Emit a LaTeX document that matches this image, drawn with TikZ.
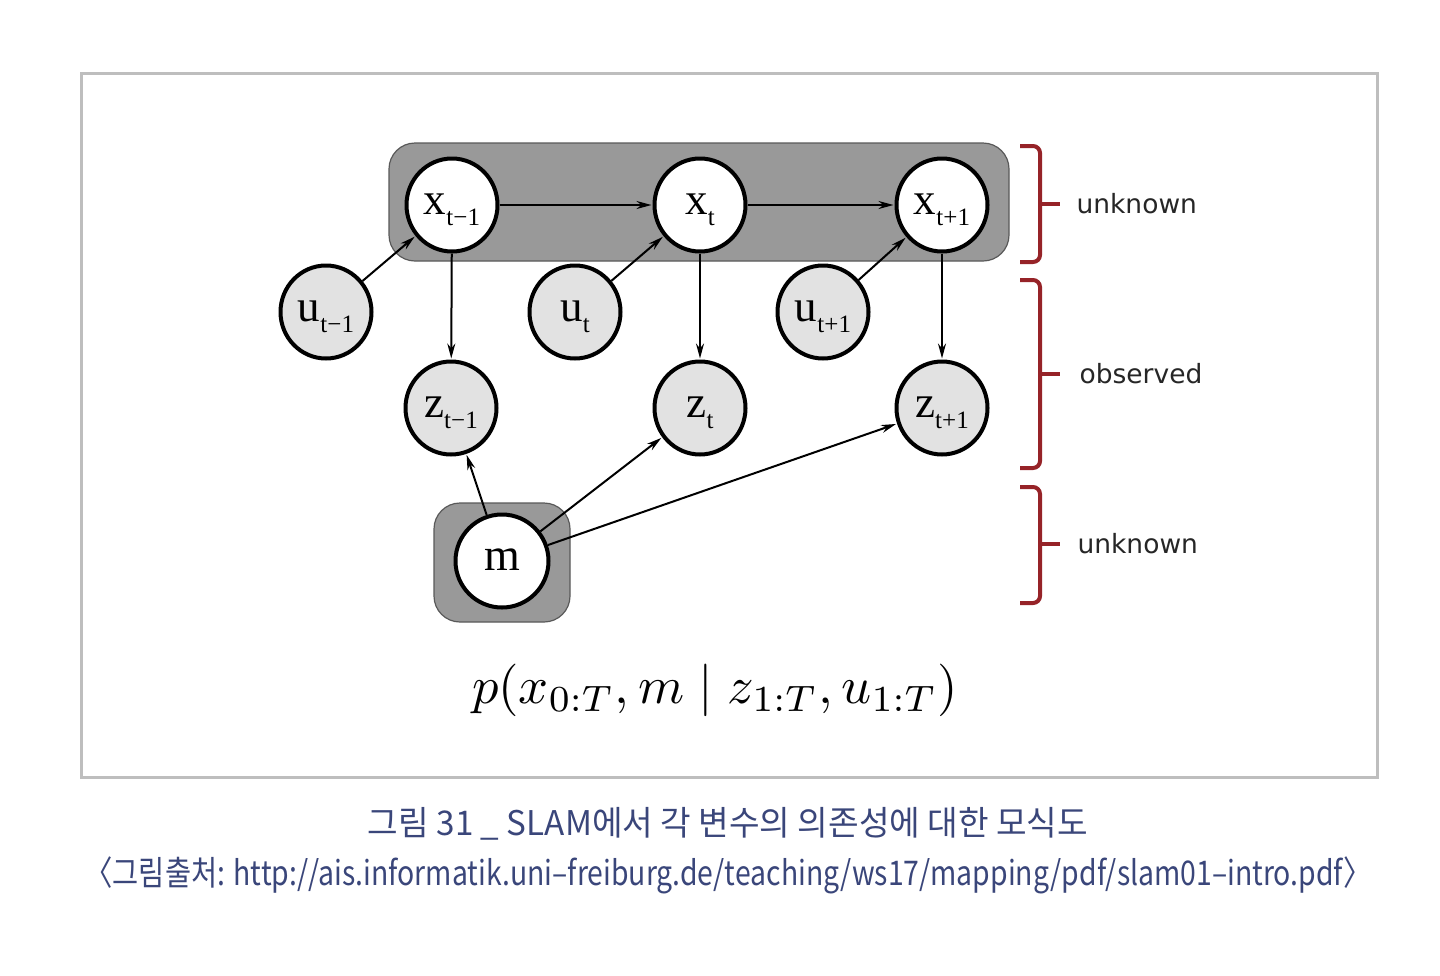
\documentclass[tikz,border=0pt]{standalone}
\usepackage[no-math]{fontspec}
\usepackage{graphicx}
\usetikzlibrary{shapes.geometric,arrows.meta}
\newfontfamily\nodefont{Liberation Serif}
\newfontfamily\labfont{DejaVu Sans}
\newfontfamily\krfont{Noto Sans CJK KR}
\definecolor{bracecol}{RGB}{150,35,40}
\definecolor{capcol}{RGB}{58,70,122}
\definecolor{boxgray}{RGB}{153,153,153}
\definecolor{nodegray}{RGB}{226,226,226}
\definecolor{framegray}{RGB}{190,190,190}
\newcommand{\varlab}[2]{{\fontsize{45}{45}\selectfont #1}\raisebox{-11pt}{\fontsize{25}{25}\selectfont #2}}
\newcommand{\bracketshape}[3]{%
  \draw[bracket] (1020,#1) -- (1040,#1) -- (1040,#2) -- (1020,#2);
  \draw[bracket] (1040,#3) -- (1060,#3);}
\tikzset{
  var/.style={ellipse, draw=black, line width=4pt, minimum width=91pt, minimum height=93pt,
    inner sep=0pt, font=\nodefont, text height=29pt, text depth=10pt},
  hid/.style={var, fill=white},
  obs/.style={var, fill=nodegray},
  edge/.style={-{Stealth[length=15pt,width=8pt]}, line width=2pt, shorten >=1pt},
  grp/.style={fill=boxgray, draw=black!65, line width=1.2pt, rounded corners=26pt},
  bracket/.style={draw=bracecol, line width=4pt, rounded corners=7pt},
  side/.style={font=\labfont\fontsize{26.5}{26.5}\selectfont, text=black!85, anchor=west},
  captext/.style={font=\krfont, text=capcol}
}
\begin{document}
\begin{tikzpicture}[x=1pt,y=-1pt]
\useasboundingbox (0,0) rectangle (1440,975);
\draw[framegray, line width=3pt] (81,73) rectangle (1377,777);
% groups
\draw[grp] (389,143) rectangle (1009,261);
\draw[grp] (434,503) rectangle (570,622);
% nodes
\node[hid] (xa) at (452,205) {\varlab{x}{t−1}};
\node[hid] (xb) at (700,205) {\varlab{x}{t}};
\node[hid] (xc) at (942,205) {\varlab{x}{t+1}};
\node[obs] (ua) at (326,312) {\varlab{u}{t−1}};
\node[obs] (ub) at (575,312) {\varlab{u}{t}};
\node[obs] (uc) at (823,312) {\varlab{u}{t+1}};
\node[obs] (za) at (451,408) {\varlab{z}{t−1}};
\node[obs] (zb) at (700,408) {\varlab{z}{t}};
\node[obs] (zc) at (942,408) {\varlab{z}{t+1}};
\node[hid, minimum width=93pt] (m) at (502,561) {\fontsize{46}{46}\selectfont m};
% edges
\draw[edge] (xa) -- (xb);
\draw[edge] (xb) -- (xc);
\draw[edge] (ua) -- (xa);
\draw[edge] (ub) -- (xb);
\draw[edge] (uc) -- (xc);
\draw[edge] (xa) -- (za);
\draw[edge] (xb) -- (zb);
\draw[edge] (xc) -- (zc);
\draw[edge] (m) -- (za);
\draw[edge] (m) -- (zb);
\draw[edge] (m) -- (zc);
% formula
\node (formula) at (715,690) {\scalebox{5.25}{$p(x_{0:T}, m \mid z_{1:T}, u_{1:T})$}};
% brackets
\bracketshape{146}{262}{204}
\bracketshape{280}{468}{374}
\bracketshape{487}{603}{544}
\node[side] (l1) at (1073,204) {unknown};
\node[side] (l2) at (1076,374) {observed};
\node[side] (l3) at (1074,544) {unknown};
% caption
\node[captext] (cap1) at (728,824) {\resizebox{720pt}{\height}{\fontsize{34}{34}\selectfont 그림 31 \_ SLAM에서 각 변수의 의존성에 대한 모식도}};
\node[captext] (cap2) at (728,875) {\resizebox{1287pt}{\height}{\fontsize{34}{34}\selectfont 〈그림출처: http://ais.informatik.uni–freiburg.de/teaching/ws17/mapping/pdf/slam01–intro.pdf〉}};
\end{tikzpicture}
\end{document}
